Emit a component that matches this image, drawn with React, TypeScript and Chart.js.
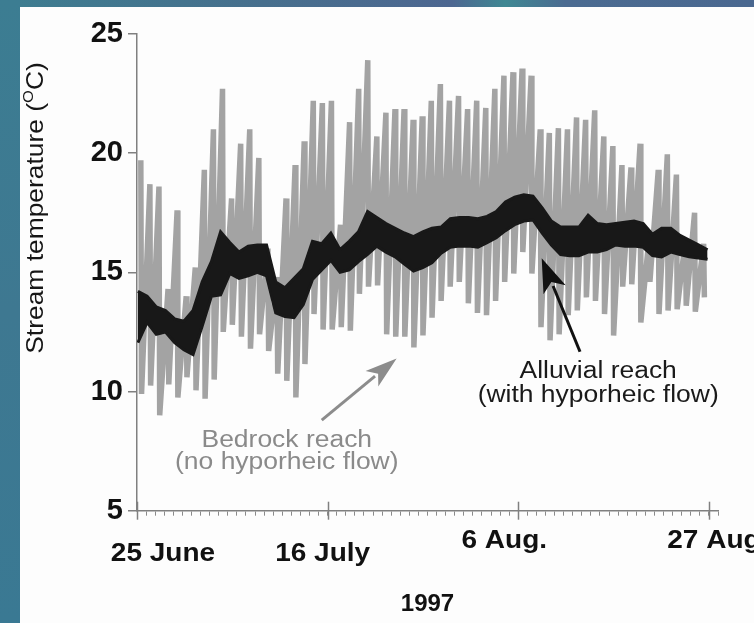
import { useEffect, useRef } from "react";
import { Chart, registerables } from "chart.js";

Chart.register(...registerables);

// ---- data ----
// day index 0 = 25 June 1997
const tickDays = [0, 21, 42, 63];
const tickLabels = ["25 June", "16 July", "6 Aug.", "27 Aug"];
const yearLabel = "1997";

// Bedrock reach (no hyporheic flow): daily max / min (°C)
const bedrockMax = [
  19.7, 18.7, 18.6, 14.3, 17.6, 14.0, 15.2, 19.3, 21.0, 22.7,
  18.1, 20.4, 21.0, 19.8, 16.0, 14.8, 18.1, 19.5, 20.5, 22.2,
  22.1, 22.2, 17.0, 21.3, 22.7, 23.9, 20.7, 21.7, 21.85, 21.85,
  21.4, 21.55, 22.2, 22.9, 22.2, 22.4, 21.85, 22.2, 21.9, 22.7,
  23.25, 23.4, 23.55, 23.25, 21.0, 20.85, 21.05, 21.0, 21.5, 21.4,
  21.8, 20.7, 20.3, 19.5, 19.4, 20.4, 16.5, 19.3, 19.95, 19.1,
  16.4, 17.5, 16.2,
];
const bedrockMin = [
  9.9, 10.25, 9.0, 10.3, 9.75, 10.6, 10.05, 9.7, 10.5, 12.5,
  12.8, 12.3, 11.8, 12.4, 11.7, 10.75, 10.45, 9.75, 11.15, 13.25,
  12.6, 12.6, 12.7, 12.55, 14.1, 14.4, 14.45, 12.4, 12.3, 12.3,
  11.85, 12.35, 13.1, 13.8, 14.4, 14.6, 13.7, 13.3, 13.2, 13.8,
  14.6, 14.95, 15.85, 14.95, 12.7, 12.15, 12.4, 13.2, 13.4, 13.95,
  13.8, 13.25, 12.35, 14.4, 14.5, 12.9, 14.6, 13.25, 13.4, 13.45,
  13.6, 13.35, 13.95,
];

// Alluvial reach (with hyporheic flow): daily max / min (°C)
const alluvialMax = [
  14.2, 14.0, 13.55, 13.4, 13.05, 12.95, 13.4, 14.6, 15.45, 16.7,
  16.25, 15.85, 16.1, 16.15, 16.15, 14.6, 14.35, 14.75, 15.15, 16.3,
  16.2, 16.65, 15.95, 16.3, 16.7, 17.55, 17.3, 17.05, 16.85, 16.65,
  16.5, 16.7, 16.85, 16.9, 17.25, 17.3, 17.3, 17.25, 17.35, 17.55,
  17.95, 18.15, 18.25, 18.2, 17.7, 17.15, 16.9, 16.9, 16.9, 17.4,
  17.05, 17.0, 17.05, 17.1, 17.15, 17.05, 16.6, 16.85, 16.85, 16.55,
  16.35, 16.15, 15.95,
];
const alluvialMin = [
  12.05, 12.9, 12.4, 12.5, 12.05, 11.75, 11.55, 12.75, 14.0, 14.05,
  14.95, 14.75, 14.85, 15.0, 14.85, 13.3, 13.15, 13.1, 13.65, 14.7,
  15.1, 15.5, 15.0, 15.1, 15.45, 15.75, 16.1, 15.85, 15.65, 15.35,
  15.05, 15.2, 15.4, 15.8, 16.05, 16.1, 16.1, 16.05, 16.25, 16.45,
  16.75, 17.0, 17.15, 17.2, 16.65, 16.15, 15.75, 15.7, 15.7, 15.85,
  15.85, 15.95, 16.15, 16.1, 16.1, 16.05, 15.7, 15.65, 15.85, 15.75,
  15.65, 15.6, 15.55,
];

// time of day (fraction) of the plotted daily extremes
const bedrockPeakAt = 0.42;
const bedrockLowAt = 0.5;
const alluvialFirst = 0.1; // first alluvial sample (day)
const alluvialLast = 62.85; // last alluvial sample (day)

const FONT = '"Liberation Sans", Arial, Helvetica, sans-serif';

function buildBedrock() {
  const pts: { x: number; y: number }[] = [];
  bedrockMax.forEach((v, d) => {
    pts.push({ x: d + bedrockPeakAt, y: v });
    pts.push({ x: d + bedrockLowAt, y: bedrockMin[d] });
  });
  return pts;
}
function buildAlluvial(vals: number[]) {
  const step = (alluvialLast - alluvialFirst) / (vals.length - 1);
  return vals.map((v, d) => ({ x: alluvialFirst + d * step, y: v }));
}

// annotation anchors in data units (day, °C)
const bedrockNote = { day: 16.5, lines: ["Bedrock reach", "(no hyporheic flow)"], base: [7.66, 6.75] };
const alluvialNote = { day: 50.8, lines: ["Alluvial reach", "(with hyporheic flow)"], base: [10.57, 9.56] };
const bedrockArrow = { from: [20.35, 8.8], to: [28.6, 11.39] };
const alluvialArrow = { from: [48.8, 11.67], to: [44.58, 15.59] };

function stretchedText(ctx: CanvasRenderingContext2D, text: string, cx: number, by: number, sx: number) {
  ctx.save();
  ctx.translate(cx, by);
  ctx.scale(sx, 1);
  ctx.textAlign = "center";
  ctx.textBaseline = "alphabetic";
  ctx.fillText(text, 0, 0);
  ctx.restore();
}

function arrow(ctx: CanvasRenderingContext2D, x1: number, y1: number, x2: number, y2: number, color: string, lw: number, hl: number, hw: number) {
  const dx = x2 - x1, dy = y2 - y1;
  const len = Math.hypot(dx, dy);
  const ux = dx / len, uy = dy / len;
  const bx = x2 - ux * hl, by = y2 - uy * hl;
  ctx.save();
  ctx.strokeStyle = color;
  ctx.fillStyle = color;
  ctx.lineWidth = lw;
  ctx.beginPath();
  ctx.moveTo(x1, y1);
  ctx.lineTo(bx + ux * 4, by + uy * 4);
  ctx.stroke();
  ctx.beginPath();
  ctx.moveTo(x2, y2);
  ctx.lineTo(bx - uy * hw, by + ux * hw);
  ctx.lineTo(bx + ux * hl * 0.25, by + uy * hl * 0.25);
  ctx.lineTo(bx + uy * hw, by - ux * hw);
  ctx.closePath();
  ctx.fill();
  ctx.restore();
}

const labelDx = [26, -5, -14, 5];
const labelBase = [561, 561, 548, 548];

const decorPlugin = {
  id: "decor",
  afterDraw(chart: any) {
    const { ctx, scales } = chart;
    const x = scales.x, y = scales.y;
    const axisY = y.getPixelForValue(5);
    ctx.save();
    // major day ticks
    ctx.strokeStyle = "#808080";
    ctx.lineWidth = 1.5;
    tickDays.forEach((d) => {
      const px = Math.round(x.getPixelForValue(d)) + 0.5;
      ctx.beginPath();
      ctx.moveTo(px, axisY - 9);
      ctx.lineTo(px, axisY + 9);
      ctx.stroke();
    });
    // tick labels
    ctx.fillStyle = "#111";
    ctx.font = `bold 25px ${FONT}`;
    tickDays.forEach((d, i) => {
      stretchedText(ctx, tickLabels[i], x.getPixelForValue(d) + labelDx[i], labelBase[i], 1.12);
    });
    // y title
    ctx.save();
    ctx.translate(36, 208);
    ctx.rotate(-Math.PI / 2);
    ctx.scale(1.1, 1);
    ctx.fillStyle = "#161616";
    const main = "Stream temperature (";
    const sup = "O";
    const tail = "C)";
    ctx.font = `24px ${FONT}`;
    const w1 = ctx.measureText(main).width;
    const w3 = ctx.measureText(tail).width;
    ctx.font = `15px ${FONT}`;
    const w2 = ctx.measureText(sup).width;
    const total = w1 + w2 + w3;
    let cx = -total / 2;
    ctx.textAlign = "left";
    ctx.textBaseline = "middle";
    ctx.font = `24px ${FONT}`;
    ctx.fillText(main, cx, 0);
    cx += w1;
    ctx.font = `15px ${FONT}`;
    ctx.fillText(sup, cx, -7);
    cx += w2;
    ctx.font = `24px ${FONT}`;
    ctx.fillText(tail, cx, 0);
    ctx.restore();

    // annotations
    ctx.font = `23px ${FONT}`;
    ctx.fillStyle = "#8a8a8a";
    bedrockNote.lines.forEach((t, i) =>
      stretchedText(ctx, t, x.getPixelForValue(bedrockNote.day), y.getPixelForValue(bedrockNote.base[i]), 1.15)
    );
    ctx.fillStyle = "#1a1a1a";
    alluvialNote.lines.forEach((t, i) =>
      stretchedText(ctx, t, x.getPixelForValue(alluvialNote.day), y.getPixelForValue(alluvialNote.base[i]), 1.15)
    );
    arrow(
      ctx,
      x.getPixelForValue(bedrockArrow.from[0]), y.getPixelForValue(bedrockArrow.from[1]),
      x.getPixelForValue(bedrockArrow.to[0]), y.getPixelForValue(bedrockArrow.to[1]),
      "#8c8c8c", 3, 32, 10
    );
    arrow(
      ctx,
      x.getPixelForValue(alluvialArrow.from[0]), y.getPixelForValue(alluvialArrow.from[1]),
      x.getPixelForValue(alluvialArrow.to[0]), y.getPixelForValue(alluvialArrow.to[1]),
      "#111111", 3, 34, 12
    );
    ctx.restore();
  },
};

export default function App() {
  const ref = useRef<HTMLCanvasElement | null>(null);
  useEffect(() => {
    if (!ref.current) return;
    const chart = new Chart(ref.current, {
      type: "line",
      data: {
        datasets: [
          {
            label: "Alluvial reach max",
            data: buildAlluvial(alluvialMax),
            borderColor: "#181818",
            backgroundColor: "#181818",
            borderWidth: 3,
            pointRadius: 0,
            tension: 0,
            fill: false,
            order: 0,
          },
          {
            label: "Alluvial reach min",
            data: buildAlluvial(alluvialMin),
            borderColor: "#181818",
            backgroundColor: "#181818",
            borderWidth: 3,
            pointRadius: 0,
            tension: 0,
            fill: "-1",
            order: 0,
          },
          {
            label: "Bedrock reach (no hyporheic flow)",
            data: buildBedrock(),
            borderColor: "#a3a3a3",
            borderWidth: 5.5,
            pointRadius: 0,
            tension: 0,
            fill: false,
            order: 1,
          },
        ],
      },
      options: {
        responsive: false,
        animation: false,
        layout: { padding: { left: 0, top: 34, right: 36, bottom: 0 } },
        plugins: {
          legend: { display: false },
          tooltip: { enabled: false },
          title: { display: false },
          filler: { drawTime: "beforeDatasetDraw" },
        },
        scales: {
          x: {
            type: "linear",
            min: 0,
            max: 64,
            ticks: { stepSize: 1, autoSkip: false, maxRotation: 0, callback: () => "" },
            grid: { drawOnChartArea: false, drawTicks: true, tickLength: 5, color: "#8a8a8a", lineWidth: 1 },
            border: { display: true, color: "#808080", width: 1.5 },
            title: {
              display: true,
              text: yearLabel,
              color: "#111",
              font: { family: FONT, size: 24, weight: "bold" },
              padding: { top: 0, bottom: 4 },
            },
            afterFit: (s: any) => {
              s.height = 112.3;
            },
          },
          y: {
            type: "linear",
            min: 5,
            max: 25,
            ticks: {
              stepSize: 5,
              color: "#111",
              padding: 5,
              font: { family: FONT, size: 29, weight: "bold" },
            },
            grid: { drawOnChartArea: false, drawTicks: true, tickLength: 9, color: "#808080", lineWidth: 1.5 },
            border: { display: true, color: "#808080", width: 1.5 },
            afterFit: (s: any) => {
              s.width = 137;
            },
          },
        },
      },
      plugins: [decorPlugin],
    });
    return () => chart.destroy();
  }, []);

  return (
    <div
      style={{
        position: "fixed",
        left: 0,
        top: 0,
        width: 754,
        height: 623,
        overflow: "hidden",
        background: "linear-gradient(90deg, #3d7d90 0%, #476f8d 35%, #4d6791 60%, #3f8893 67%, #4b6b91 75%, #4a6890 100%)",
      }}
    >
      <div
        style={{
          position: "absolute",
          left: 0,
          top: 0,
          width: 20,
          height: 623,
          background: "linear-gradient(180deg, #3c7d92 0%, #3e7891 50%, #3a7993 100%)",
        }}
      />
      <div style={{ position: "absolute", left: 20, top: 7, right: 0, bottom: 0, background: "#fdfdfd" }} />
      <canvas ref={ref} width={754} height={623} style={{ position: "absolute", left: 0, top: 0, width: 754, height: 623 }} />
    </div>
  );
}
